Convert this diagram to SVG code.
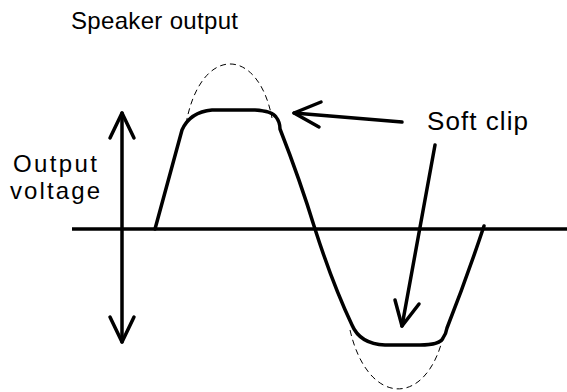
<svg xmlns="http://www.w3.org/2000/svg" width="567" height="392" viewBox="0 0 567 392">
<style>
text{font-family:"Liberation Sans",Arial,sans-serif;fill:#000}
.thick{fill:none;stroke:#000;stroke-width:3.5;stroke-linecap:round;stroke-linejoin:round}
.axis{fill:none;stroke:#000;stroke-width:3.5}
.dash{fill:none;stroke:#000;stroke-width:1;stroke-dasharray:6 4}
</style>
<rect width="567" height="392" fill="#fff"/>
<g id="labels">
<text x="71" y="29" font-size="24" textLength="167">Speaker output</text>
<text x="427" y="130" font-size="26" textLength="101">Soft clip</text>
<text x="13" y="172" font-size="24" textLength="84">Output</text>
<text x="10" y="199" font-size="24" textLength="90">voltage</text>
</g>
<g id="axes">
<line class="axis" x1="72" y1="229" x2="567" y2="229"/>
<line class="thick" x1="122" y1="113" x2="122" y2="342"/>
<polyline class="thick" points="110,138 122,113 134,138"/>
<polyline class="thick" points="110,317 122,342 134,317"/>
</g>
<g id="waveform">
<path class="dash" d="M186,124 C200,45 258,45 272,118"/>
<path class="dash" d="M350,330 C368,408 428,408 444,333"/>
<path class="thick" d="M155,229 L182,130 Q190,112 212,110 L255,110 Q272,111 276,117 Q280,122 280,129 Q300,180 315,229 Q333,285 352,325 Q360,344 385,345 L420,345 Q440,345 443,338 Q446,334 447,328 Q466,280 484,226"/>
</g>
<g id="connectors">
<line class="thick" x1="402" y1="122" x2="294" y2="113"/>
<polyline class="thick" points="321,102 294,113 319,127"/>
<line class="thick" x1="435" y1="145" x2="402" y2="326"/>
<polyline class="thick" points="395,300 402,326 419,304"/>
</g>
</svg>
